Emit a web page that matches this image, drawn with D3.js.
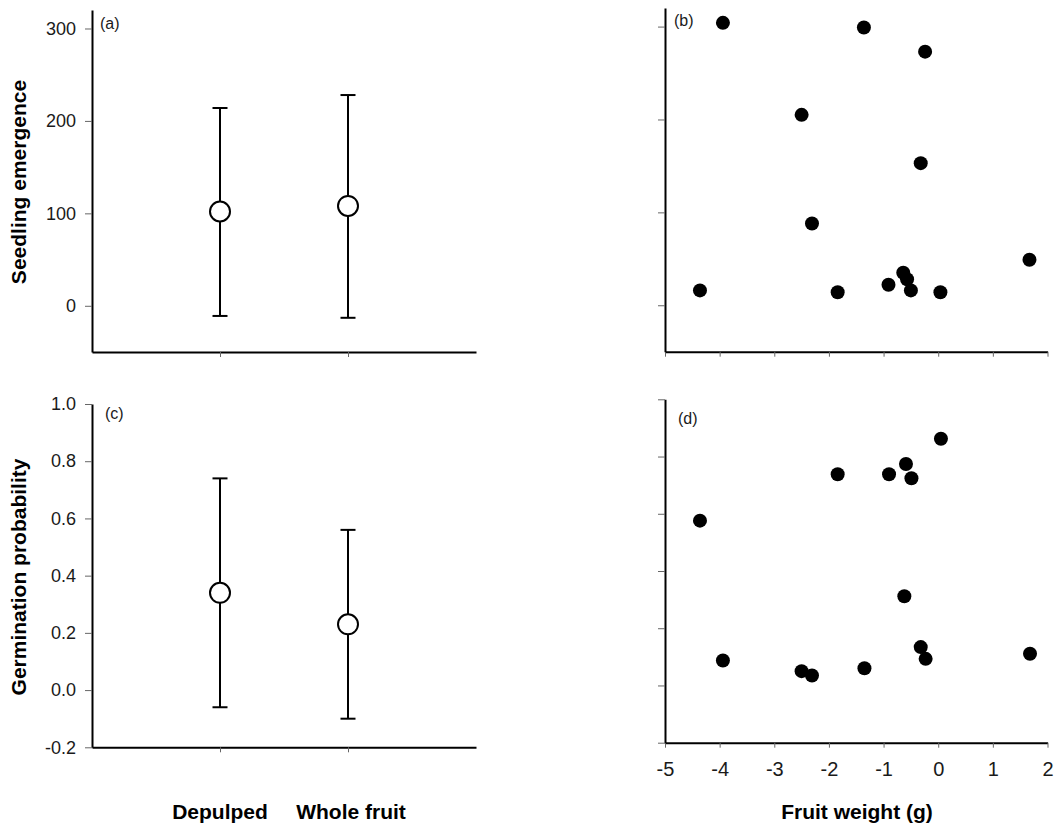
<!DOCTYPE html>
<html>
<head>
<meta charset="utf-8">
<script src="https://cdn.jsdelivr.net/npm/d3@7"></script>
<style>
  body { margin: 0; background: #fff; }
  svg { font-family: "Liberation Sans", Arial, sans-serif; }
</style>
</head>
<body>
<div id="chartTarget"></div>
<script>
// treatment means with error bars (panels a, c)
const categories = ['Depulped', 'Whole fruit'];
const emergenceMean = [102, 108];
const emergenceLow = [-11, -13];
const emergenceHigh = [214, 228];
const germMean = [0.34, 0.23];
const germLow = [-0.06, -0.10];
const germHigh = [0.74, 0.56];

// fruit weight scatter (panels b, d)
const weightB = [-3.94, -1.36, -0.24, -2.50, -0.32, -2.31, 1.67, -0.64, -0.57, -0.91, -0.50, -4.36, -1.84, 0.04];
const emergenceB = [304, 299, 273, 205, 153, 88, 49, 35, 28, 22, 16, 16, 14, 14];
const weightD = [0.05, -0.59, -1.84, -0.90, -0.49, -4.36, -0.62, -0.32, 1.68, -0.23, -3.94, -1.35, -2.50, -2.31];
const germD = [0.862, 0.774, 0.738, 0.738, 0.724, 0.576, 0.312, 0.134, 0.111, 0.093, 0.087, 0.060, 0.050, 0.035];

const emergenceTicks = [0, 100, 200, 300];
const germTicks = [-0.2, 0, 0.2, 0.4, 0.6, 0.8, 1.0];
const weightTicks = [-5, -4, -3, -2, -1, 0, 1, 2];

const svg = d3.select('#chartTarget').append('svg')
  .attr('width', 1055)
  .attr('height', 827);

// plain hyphen for negatives, like the original
const hyphen = f => d => f(d).replace('\u2212', '-');

function styleAxis(g) {
  g.select('.domain').attr('stroke', '#000').attr('stroke-width', 2);
  g.selectAll('.tick line').attr('stroke', '#666').attr('stroke-width', 1);
  g.selectAll('.tick text').attr('fill', '#1a1a1a');
}

function panel(opts) {
  let g = svg.append('g');
  let y = d3.scaleLinear().domain(opts.yDomain).range([opts.bottom, opts.top]);
  let x = opts.x;

  let yAxis = d3.axisLeft(y)
    .tickValues(opts.yTicks)
    .tickSizeInner(7)
    .tickSizeOuter(0)
    .tickPadding(9)
    .tickFormat(opts.yFormat);

  let xAxis = d3.axisBottom(x)
    .tickSizeInner(5)
    .tickSizeOuter(0)
    .tickPadding(14)
    .tickFormat(opts.xFormat);
  if (opts.xTicks) xAxis.tickValues(opts.xTicks);

  g.append('g')
    .attr('transform', `translate(0, ${opts.bottom})`)
    .style('font-size', '20px')
    .call(xAxis)
    .call(styleAxis);

  g.append('g')
    .attr('transform', `translate(${opts.left}, 0)`)
    .style('font-size', '18px')
    .call(yAxis)
    .call(styleAxis);

  g.append('text')
    .attr('x', opts.labelX)
    .attr('y', opts.labelY)
    .style('font-size', '16px')
    .attr('fill', '#1a1a1a')
    .text(opts.label);

  return {g, x, y};
}

function errorPanel(opts, mean, low, high) {
  let x = d3.scalePoint().domain(categories).range([92, 476]).padding(1);
  let p = panel(Object.assign({x: x, xFormat: () => '', left: 92}, opts));
  let rows = categories.map((c, i) => ({c, m: mean[i], lo: low[i], hi: high[i]}));
  let capW = 7.5;

  let bars = p.g.selectAll('.err').data(rows).enter().append('g')
    .attr('stroke', '#000')
    .attr('stroke-width', 2);
  bars.append('line')
    .attr('x1', d => x(d.c)).attr('x2', d => x(d.c))
    .attr('y1', d => p.y(d.lo)).attr('y2', d => p.y(d.hi));
  bars.append('line')
    .attr('x1', d => x(d.c) - capW).attr('x2', d => x(d.c) + capW)
    .attr('y1', d => p.y(d.hi)).attr('y2', d => p.y(d.hi));
  bars.append('line')
    .attr('x1', d => x(d.c) - capW).attr('x2', d => x(d.c) + capW)
    .attr('y1', d => p.y(d.lo)).attr('y2', d => p.y(d.lo));
  bars.append('circle')
    .attr('cx', d => x(d.c))
    .attr('cy', d => p.y(d.m))
    .attr('r', 10)
    .attr('fill', '#fff');
  return p;
}

function scatterPanel(opts, xs, ys) {
  let x = d3.scaleLinear().domain([-5, 2]).range([665, 1047.5]);
  let p = panel(Object.assign({x: x, xTicks: weightTicks, left: 665}, opts));
  p.g.selectAll('.dot').data(xs).enter().append('circle')
    .attr('cx', d => x(d))
    .attr('cy', (d, i) => p.y(ys[i]))
    .attr('r', 7)
    .attr('fill', '#000');
  return p;
}

// (a)
errorPanel({
  yDomain: [-50, 320], top: 10, bottom: 352,
  yTicks: emergenceTicks, yFormat: d3.format('d'),
  label: '(a)', labelX: 100, labelY: 29
}, emergenceMean, emergenceLow, emergenceHigh);

// (b)
scatterPanel({
  yDomain: [-50, 320], top: 8, bottom: 351.7,
  yTicks: emergenceTicks, yFormat: () => '', xFormat: () => '',
  label: '(b)', labelX: 674, labelY: 26
}, weightB, emergenceB);

// (c)
errorPanel({
  yDomain: [-0.2, 1.0], top: 404, bottom: 747.3,
  yTicks: germTicks, yFormat: hyphen(d3.format('.1f')),
  label: '(c)', labelX: 105, labelY: 419
}, germMean, germLow, germHigh);

// (d)
scatterPanel({
  yDomain: [-0.2, 1.0], top: 399.3, bottom: 742.7,
  yTicks: germTicks, yFormat: () => '', xFormat: hyphen(d3.format('d')),
  label: '(d)', labelX: 678, labelY: 424
}, weightD, germD);

// axis titles
const titleStyle = 'font-size: 21px; font-weight: bold;';
svg.append('text')
  .attr('style', titleStyle)
  .attr('transform', 'translate(26, 182) rotate(-90)')
  .style('text-anchor', 'middle')
  .text('Seedling emergence');

svg.append('text')
  .attr('style', titleStyle)
  .attr('transform', 'translate(26, 577) rotate(-90)')
  .style('text-anchor', 'middle')
  .text('Germination probability');

let catX = d3.scalePoint().domain(categories).range([92, 476]).padding(1);
svg.selectAll('.cat').data(categories).enter().append('text')
  .attr('style', titleStyle)
  .attr('x', (d, i) => catX(d) + (i === 1 ? 3 : 0))
  .attr('y', 819)
  .style('text-anchor', 'middle')
  .text(d => d);

svg.append('text')
  .attr('style', titleStyle)
  .attr('x', 857)
  .attr('y', 819)
  .style('text-anchor', 'middle')
  .text('Fruit weight (g)');
</script>
</body>
</html>
